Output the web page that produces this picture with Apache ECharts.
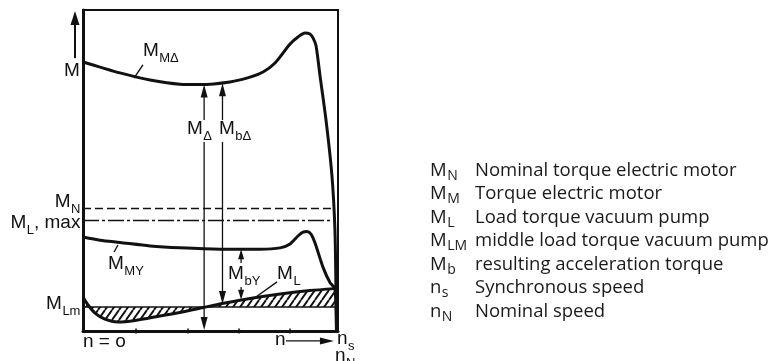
<!DOCTYPE html>
<html><head><meta charset="utf-8">
<script src="https://cdn.jsdelivr.net/npm/echarts@6/dist/echarts.min.js"></script>
<style>html,body{margin:0;padding:0;background:#fff}#c{width:779px;height:361px}</style>
</head><body><div id="c"></div>
<script>
// ---- Data (speed n: 0..100 relative, torque M: 0..100 relative) ----
const curveMMDelta = [[0,83.8],[6.7,82.2],[14.5,80.4],[26.3,78.2],[38.0,76.9],[45.9,76.8],[57.6,77.6],[65.5,79.1],[70.6,80.7],[75.3,83.5],[81.2,89.4],[84.3,91.6],[87.1,92.8],[89.0,92.5],[90.2,91.3],[91.4,88.8],[92.9,79.8],[95.3,65.7],[97.6,48.6],[98.8,31.5],[99.2,13.2],[99.4,0]];
const curveMMY = [[0,29.3],[6.7,28.3],[14.5,27.6],[26.3,26.5],[38.0,25.9],[53.7,25.5],[69.4,25.5],[77.3,25.9],[81.2,27.1],[84.3,29.6],[86.3,30.8],[87.8,31.0],[89.4,30.2],[91.0,27.4],[94.1,19.9],[96.9,15.0],[98.8,13.2],[99.4,0]];
const curveML = [[0,10.6],[2.0,8.1],[4.7,5.6],[8.6,3.7],[13.7,2.8],[20.4,3.3],[30.2,4.7],[40.0,6.1],[47.1,7.3],[55.7,8.7],[65.5,10.1],[77.3,11.5],[89.0,12.6],[98.8,13.2]];
const levelMLm = 7.5;
const levelMN = 38.2;
const levelMLmax = 34.4;
const speedEnd = 99.2;
const xTicks = [20.8, 41.2, 61.2, 81.2];

// annotation arrows [x1,y1,x2,y2] (head at x2,y2)
const arrows = [
  [-3.14, 85.0, -3.14, 99.7],   // M axis arrow
  [47.5, 65.7, 47.5, 76.8],     // M_delta up
  [47.5, 58.9, 47.5, 0.3],      // M_delta down
  [54.7, 65.7, 54.7, 77.2],     // M_bdelta up
  [54.7, 58.9, 54.7, 8.4],      // M_bdelta down
  [62.0, 21.2, 62.0, 25.5],     // M_bY up
  [62.0, 13.7, 62.0, 9.7],      // M_bY down
  [79.6, -3.1, 98.4, -3.1]      // n arrow
];
const arrowHeads = [[2,14,9],[1.3,13,7],[1.3,13,7],[1.3,13,7],[1.3,13,7],[1.3,10,6],[1.3,10,6],[1.3,14,7]];
const leaders = [[23.5,82.9,20.0,78.8],[13.7,26.8,12.2,24.6],[76.1,15.3,67.8,10.6]];

// labels: [x, y(baseline), main, sub, rest, align]
const chartLabels = [
  [-1.2, 79.1, 'M', '', '', 'right'],
  [23.5, 85.4, 'M', 'MΔ', '', 'left'],
  [40.8, 61.1, 'M', 'Δ', '', 'left'],
  [53.3, 61.1, 'M', 'bΔ', '', 'left'],
  [-1.2, 38.3, 'M', 'N', '', 'right'],
  [-1.2, 31.8, 'M', 'L', ', max', 'right'],
  [9.8, 19.0, 'M', 'MY', '', 'left'],
  [-1.2, 6.5, 'M', 'Lm', '', 'right'],
  [56.9, 15.9, 'M', 'bY', '', 'left'],
  [76.1, 15.9, 'M', 'L', '', 'left'],
  [0, -5.3, 'n = o', '', '', 'left'],
  [75.3, -4.7, 'n', '', '', 'left'],
  [99.6, -4.4, 'n', 's', '', 'left'],
  [98.8, -9.7, 'n', 'N', '', 'left']
];

const legendSymbols = [['M','N'],['M','M'],['M','L'],['M','LM'],['M','b'],['n','s'],['n','N']];
const legendTexts = ['Nominal torque electric motor','Torque electric motor','Load torque vacuum pump','middle load torque vacuum pump','resulting acceleration torque','Synchronous speed','Nominal speed'];

// ---- helpers ----
const mctx = document.createElement('canvas').getContext('2d');
function measure(t, f){ mctx.font = f; return mctx.measureText(t).width; }
const LF = '19px "Liberation Sans", Arial, sans-serif';
const SF = '13px "Liberation Sans", Arial, sans-serif';
const GF = '18.5px "Open Sans", sans-serif';
const GSF = '14px "Open Sans", sans-serif';
const INK = '#111';

// hatch pattern
const pc = document.createElement('canvas'); pc.width = 7; pc.height = 10;
const pg = pc.getContext('2d'); pg.strokeStyle = INK; pg.lineWidth = 1.9;
pg.beginPath();
for (const s of [-7,0,7]) { pg.moveTo(s,10); pg.lineTo(s+7,0); }
pg.stroke();

const chart = echarts.init(document.getElementById('c'), null, {renderer:'canvas'});

function textParts(x, yb, main, sub, rest, font, sfont, subDy, align, k, fill){
  const wm = measure(main, font), ws = sub ? measure(sub, sfont) : 0, wr = rest ? measure(rest, font) : 0;
  let x0 = align === 'right' ? x - (wm+ws+wr) : x;
  const fs = parseFloat(font), sfs = parseFloat(sfont);
  const col = fill || INK;
  const out = [{type:'text', style:{text:main, x:x0, y:yb - k*fs, font:font, fill:col, align:'left', verticalAlign:'middle'}}];
  if (sub) out.push({type:'text', style:{text:sub, x:x0+wm+0.5, y:yb + subDy - k*sfs, font:sfont, fill:col, align:'left', verticalAlign:'middle'}});
  if (rest) out.push({type:'text', style:{text:rest, x:x0+wm+ws+0.5, y:yb - k*fs, font:font, fill:col, align:'left', verticalAlign:'middle'}});
  return out;
}

const graphics = [];
legendSymbols.forEach((s,i)=>{
  const yb = 176.5 + 23.5*i;
  textParts(430, yb, s[0], s[1], '', GF, GSF, 4, 'left', 0.33, '#1a1a1a').forEach(e=>graphics.push(e));
  graphics.push({type:'text', style:{text:legendTexts[i], x:475, y:yb - 0.33*18.5, font:GF, fill:'#1a1a1a', align:'left', verticalAlign:'middle'}});
});

chart.setOption({
  animation:false,
  backgroundColor:'#fff',
  grid:{left:83, top:10, width:255, height:321, show:true, borderColor:INK, borderWidth:2, backgroundColor:'transparent'},
  xAxis:{type:'value', min:0, max:100, axisLine:{show:true, onZero:false, lineStyle:{color:INK, width:3}}, axisTick:{show:false}, axisLabel:{show:false}, splitLine:{show:false}},
  yAxis:{type:'value', min:0, max:100, axisLine:{show:true, onZero:false, lineStyle:{color:INK, width:3}}, axisTick:{show:false}, axisLabel:{show:false}, splitLine:{show:false}},
  graphic: graphics,
  series:[
    {type:'custom', z:1, clip:false, data:[[0,0]], renderItem:(p, api)=>{
      const pts = curveML.map(d=>api.coord(d));
      pts.push(api.coord([curveML[curveML.length-1][0], levelMLm]));
      pts.push(api.coord([0, levelMLm]));
      return {type:'polygon', shape:{points:pts}, style:{fill:{image:pc, repeat:'repeat'}, stroke:null}};
    }},
    {type:'line', z:2, symbol:'none', data:[[0,levelMLm],[speedEnd,levelMLm]], lineStyle:{color:INK, width:1.6}},
    {type:'line', z:2, symbol:'none', data:[[0,levelMN],[98,levelMN]], lineStyle:{color:INK, width:1.5, type:[8,4]}},
    {type:'line', z:2, symbol:'none', data:[[0,levelMLmax],[98,levelMLmax]], lineStyle:{color:INK, width:1.5, type:[16,3,3,3]}},
    {type:'line', z:3, symbol:'none', smooth:0.25, data:curveMMDelta, lineStyle:{color:INK, width:3}},
    {type:'line', z:3, symbol:'none', smooth:0.25, data:curveMMY, lineStyle:{color:INK, width:3}},
    {type:'line', z:3, symbol:'none', smooth:0.25, data:curveML, lineStyle:{color:INK, width:3}},
    {type:'custom', z:4, clip:false, data:arrows, encode:{x:[0,2], y:[1,3]}, renderItem:(p, api)=>{
      const a = arrows[p.dataIndex], h = arrowHeads[p.dataIndex];
      const p1 = api.coord([a[0],a[1]]), p2 = api.coord([a[2],a[3]]);
      const dx = p2[0]-p1[0], dy = p2[1]-p1[1], L = Math.hypot(dx,dy), ux = dx/L, uy = dy/L;
      const bx = p2[0]-ux*h[1], by = p2[1]-uy*h[1];
      return {type:'group', children:[
        {type:'line', shape:{x1:p1[0], y1:p1[1], x2:bx+ux*2, y2:by+uy*2}, style:{stroke:INK, lineWidth:h[0]}},
        {type:'polygon', shape:{points:[[p2[0],p2[1]],[bx-uy*h[2]/2, by+ux*h[2]/2],[bx+uy*h[2]/2, by-ux*h[2]/2]]}, style:{fill:INK}}
      ]};
    }},
    {type:'custom', z:4, clip:false, data:leaders, encode:{x:[0,2], y:[1,3]}, renderItem:(p, api)=>{
      const a = leaders[p.dataIndex];
      const p1 = api.coord([a[0],a[1]]), p2 = api.coord([a[2],a[3]]);
      return {type:'line', shape:{x1:p1[0], y1:p1[1], x2:p2[0], y2:p2[1]}, style:{stroke:INK, lineWidth:1.4}};
    }},
    {type:'scatter', z:4, data:xTicks.map(v=>[v,0]), symbol:'rect', symbolSize:[2,5], itemStyle:{color:INK}},
    {type:'custom', z:5, clip:false, data:chartLabels.map(l=>[l[0],l[1]]), renderItem:(p, api)=>{
      const l = chartLabels[p.dataIndex];
      const c = api.coord([l[0], l[1]]);
      return {type:'group', children:textParts(c[0], c[1], l[2], l[3], l[4], LF, SF, 6, l[5], 0.33)};
    }}
  ]
});
</script></body></html>
